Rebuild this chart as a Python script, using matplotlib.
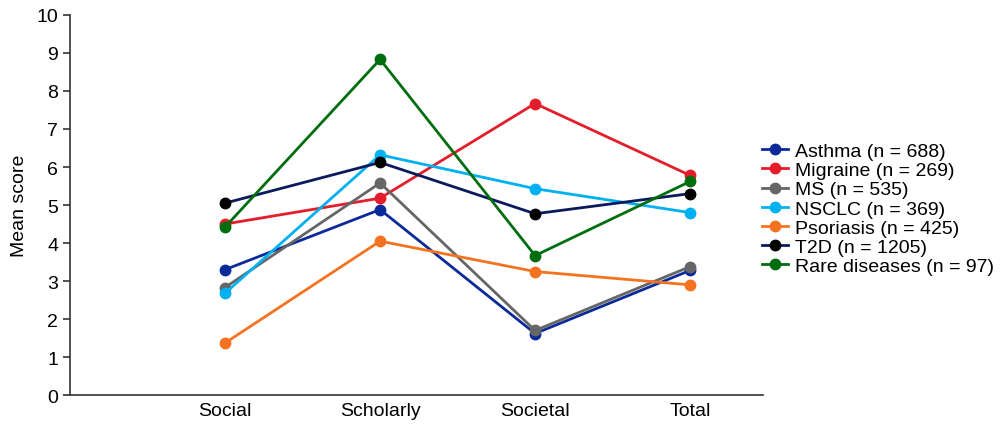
import matplotlib.pyplot as plt

plt.rcParams['font.family'] = ['Liberation Sans', 'DejaVu Sans']

categories = ['Social', 'Scholarly', 'Societal', 'Total']
asthma = [3.30, 4.88, 1.62, 3.28]
migraine = [4.50, 5.18, 7.67, 5.78]
ms = [2.83, 5.58, 1.70, 3.38]
nsclc = [2.68, 6.32, 5.43, 4.80]
psoriasis = [1.37, 4.05, 3.25, 2.90]
t2d = [5.05, 6.12, 4.77, 5.30]
rare = [4.42, 8.83, 3.67, 5.62]

series = [
    ('Asthma (n = 688)', asthma, '#0A2A9A', '#0A2A9A'),
    ('Migraine (n = 269)', migraine, '#E31E2A', '#E31E2A'),
    ('MS (n = 535)', ms, '#666666', '#666666'),
    ('NSCLC (n = 369)', nsclc, '#00B0F0', '#00B0F0'),
    ('Psoriasis (n = 425)', psoriasis, '#F47320', '#F47320'),
    ('T2D (n = 1205)', t2d, '#0B1A5C', '#000000'),
    ('Rare diseases (n = 97)', rare, '#006E0E', '#006E0E'),
]

fig = plt.figure(figsize=(10, 4.31), dpi=100)
ax = fig.add_axes([0.07, 0.081, 0.693, 0.882])

x = range(1, len(categories) + 1)
for label, vals, lc, mc in series:
    ax.plot(x, vals, '-o', color=lc, markerfacecolor=mc, markeredgecolor=mc,
            linewidth=2, markersize=7.5, label=label)

ax.set_xlim(0, 4.47)
ax.set_ylim(0, 10)
ax.set_yticks(range(0, 11))
ax.set_xticks(list(x))
ax.set_xticklabels(categories)
ax.tick_params(axis='x', length=0, labelsize=14, pad=5)
ax.tick_params(axis='y', labelsize=14, length=5, width=1.2, color='#333333')
ax.set_ylabel('Mean score', fontsize=14, labelpad=6)
for s in ['top', 'right']:
    ax.spines[s].set_visible(False)
for s in ['left', 'bottom']:
    ax.spines[s].set_color('#333333')
    ax.spines[s].set_linewidth(1.2)

ax.legend(loc='center left', bbox_to_anchor=(0.998, 0.49), frameon=False,
          fontsize=14, handlelength=1.35, handletextpad=0.35, labelspacing=0.08,
          borderaxespad=0.0, borderpad=0.0)

fig.savefig('out.png', dpi=100)
